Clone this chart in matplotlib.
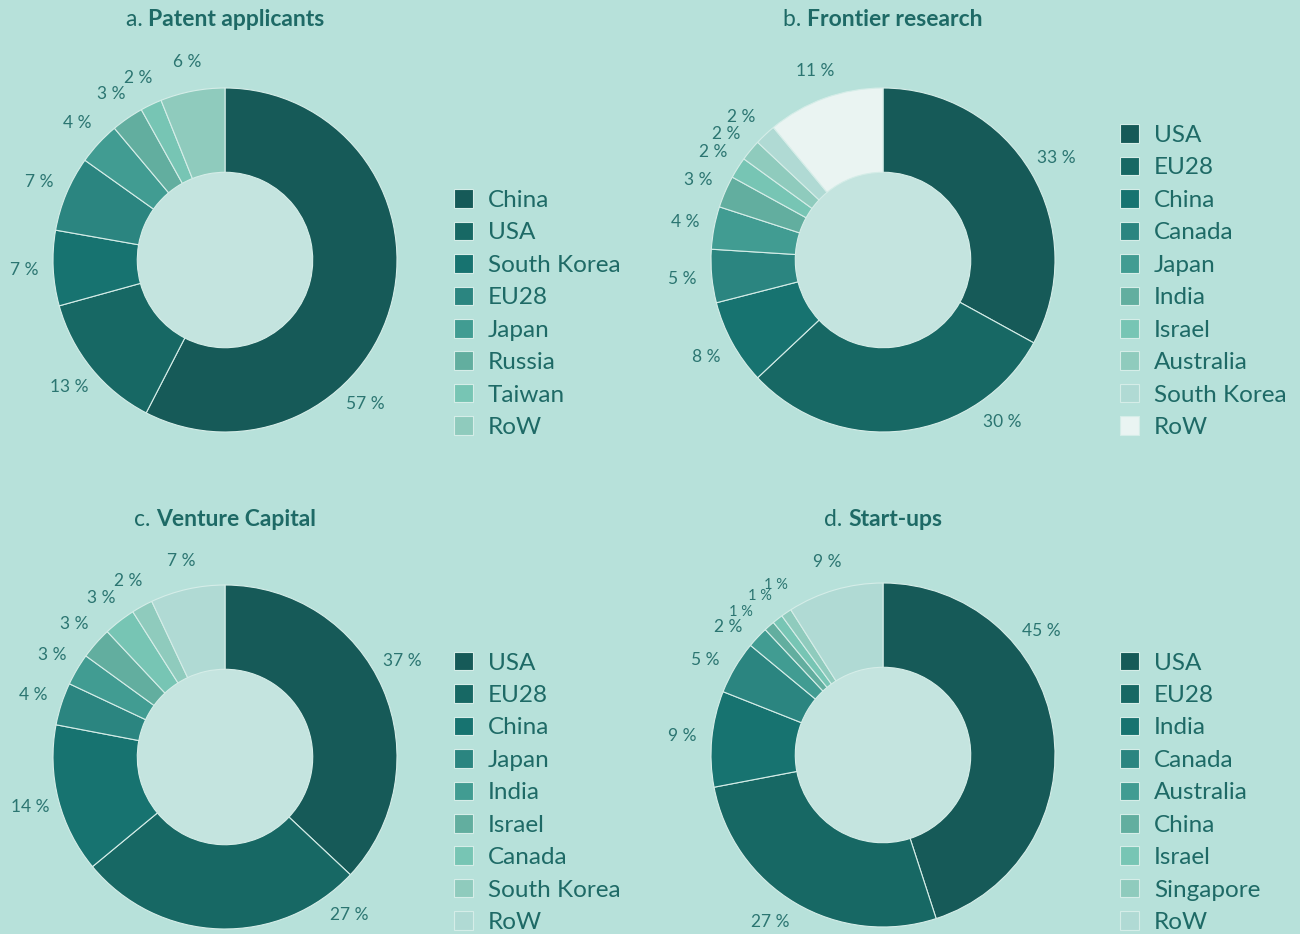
import numpy as np
import matplotlib
matplotlib.use("Agg")
import matplotlib.pyplot as plt
from matplotlib.patches import Circle
from matplotlib.offsetbox import TextArea, HPacker, AnnotationBbox

plt.rcParams['font.family'] = ['Lato', 'DejaVu Sans']

# ---- data ----
patent_labels = ["China", "USA", "South Korea", "EU28", "Japan", "Russia", "Taiwan", "RoW"]
patent_values = [57, 13, 7, 7, 4, 3, 2, 6]

research_labels = ["USA", "EU28", "China", "Canada", "Japan", "India", "Israel",
                   "Australia", "South Korea", "RoW"]
research_values = [33, 30, 8, 5, 4, 3, 2, 2, 2, 11]

vc_labels = ["USA", "EU28", "China", "Japan", "India", "Israel", "Canada",
             "South Korea", "RoW"]
vc_values = [37, 27, 14, 4, 3, 3, 3, 2, 7]

startup_labels = ["USA", "EU28", "India", "Canada", "Australia", "China", "Israel",
                  "Singapore", "RoW"]
startup_values = [45, 27, 9, 5, 2, 1, 1, 1, 9]

# ---- style ----
BG = "#b7e1da"
HOLE = "#c4e4df"
TXT = "#1e6a66"
LBL = "#2b7571"
PALETTE = ["#165a58", "#176864", "#177370", "#2b8580", "#419c92",
           "#62ae9f", "#77c5b4", "#8fcbbd", "#b0dad4", "#eaf4f2"]

W, H = 1300, 934
fig = plt.figure(figsize=(W / 100, H / 100), dpi=100, facecolor=BG)

R = 172  # outer radius in pixels

panels = [
    # prefix, title, labels, values, colour idx, centre px, legend anchor px, label angle shift
    ("a. ", "Patent applicants", patent_labels, patent_values,
     [0, 1, 2, 3, 4, 5, 6, 7], (225, 260), (454, 438), {0: -32}),
    ("b. ", "Frontier research", research_labels, research_values,
     list(range(10)), (883, 260), (1120, 438), {1: 29, 7: 1, 8: 1.5}),
    ("c. ", "Venture Capital", vc_labels, vc_values,
     [0, 1, 2, 3, 4, 5, 6, 7, 8], (225, 757), (454, 933), {0: 5, 1: 40}),
    ("d. ", "Start-ups", startup_labels, startup_values,
     [0, 1, 2, 3, 4, 5, 6, 7, 8], (883, 755), (1120, 933),
     {0: 29, 1: -3.5, 3: 2.4, 4: 3.7, 5: 3.5, 7: -2}),
]

for prefix, title, labels, values, cidx, (cx, cy), (lx, ly), shift in panels:
    ax = fig.add_axes([(cx - R) / W, (H - cy - R) / H, 2 * R / W, 2 * R / H])
    ax.set_facecolor("none")
    colors = [PALETTE[i] for i in cidx]
    wedges, _ = ax.pie(values, colors=colors, startangle=90, counterclock=False,
                       radius=1.0,
                       wedgeprops=dict(width=0.49, edgecolor="#d5ede8", linewidth=0.8))
    ax.add_patch(Circle((0, 0), 0.51, color=HOLE, zorder=0.5))
    ax.set_xlim(-1, 1)
    ax.set_ylim(-1, 1)
    ax.axis("off")

    # percentage labels around the ring
    for i, (w, v) in enumerate(zip(wedges, values)):
        ang = np.deg2rad((w.theta1 + w.theta2) / 2 + shift.get(i, 0))
        r = 1.17
        fs = 10.5 if v == 1 else 12.5
        ax.text(r * np.cos(ang), r * np.sin(ang), f"{v} %", ha="center", va="center",
                fontsize=fs, color=LBL)

    ax.legend(wedges, labels, loc="lower left", frameon=False,
              bbox_to_anchor=(lx / W, (H - ly) / H), bbox_transform=fig.transFigure,
              borderpad=0, borderaxespad=0, fontsize=17.5, labelcolor=TXT,
              handlelength=0.8, handleheight=0.8, handletextpad=0.6,
              labelspacing=0.44)

    # title: regular prefix + bold name
    t1 = TextArea(prefix, textprops=dict(fontsize=16.5, color=TXT))
    t2 = TextArea(title, textprops=dict(fontsize=16.5, color=TXT, fontweight="bold"))
    box = HPacker(children=[t1, t2], align="baseline", pad=0, sep=0)
    ty = 20 if cy < 500 else 519
    fig.add_artist(AnnotationBbox(box, (cx / W, (H - ty) / H), xycoords="figure fraction",
                                  frameon=False, box_alignment=(0.5, 0.5)))

fig.savefig("out.png", dpi=100, facecolor=BG)
